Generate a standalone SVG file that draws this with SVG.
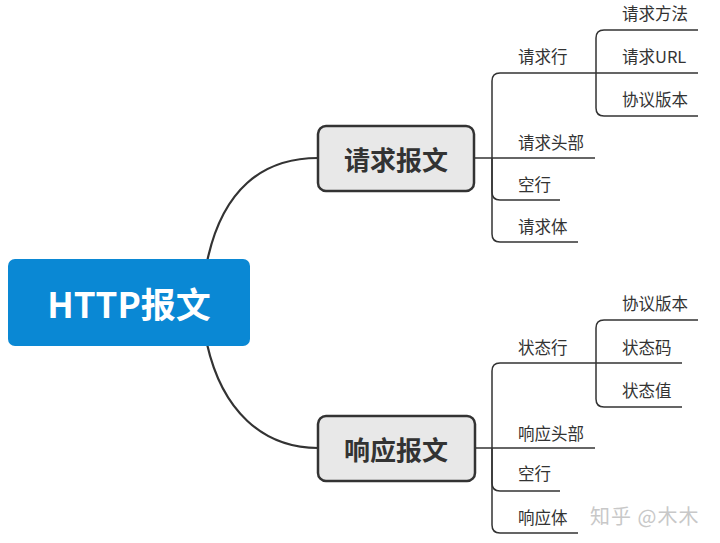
<svg xmlns="http://www.w3.org/2000/svg" width="720" height="543" viewBox="0 0 720 543">
<style>
.main{fill:none;stroke:#333;stroke-width:2.2}
.br{fill:none;stroke:#333;stroke-width:1.5}
.t{font-family:"Noto Sans CJK SC","Noto Sans",sans-serif;font-size:16.5px;fill:#333;dominant-baseline:central}
.topic{fill:#e8e8e8;stroke:#333;stroke-width:2.5}
.tt{font-family:"Noto Sans CJK SC","Noto Sans",sans-serif;font-size:26px;font-weight:bold;fill:#333;text-anchor:middle;dominant-baseline:central}
</style>
<rect width="720" height="543" fill="#fff"/>
<g id="connectors">
<path class="main" d="M207,262 C222,190 262,158 318,158"/>
<path class="main" d="M207,344 C222,410 262,448 318,448"/>
<path class="br" d="M474,158 H492"/>
<path class="br" d="M492,158 V81 Q492,73 500,73 H698"/>
<path class="br" d="M492,158 H595"/>
<path class="br" d="M492,158 V192 Q492,200 500,200 H560"/>
<path class="br" d="M492,158 V234 Q492,242 500,242 H578"/>
<path class="br" d="M596,73 V38 Q596,30 604,30 H698"/>
<path class="br" d="M596,73 V108 Q596,116 604,116 H698"/>
<path class="br" d="M475,448 H492"/>
<path class="br" d="M492,448 V371 Q492,363 500,363 H682"/>
<path class="br" d="M492,448 H595"/>
<path class="br" d="M492,448 V483 Q492,491 500,491 H560"/>
<path class="br" d="M492,448 V525 Q492,533 500,533 H578"/>
<path class="br" d="M596,363 V328 Q596,320 604,320 H698"/>
<path class="br" d="M596,363 V399 Q596,407 604,407 H682"/>
</g>
<g id="root">
<rect x="8" y="259" width="242" height="87" rx="7" fill="#0a88d4"/>
<text x="129" y="302" font-family="'Noto Sans CJK SC','Noto Sans',sans-serif" font-size="35" font-weight="bold" fill="#fff" text-anchor="middle" dominant-baseline="central">HTTP报文</text>
</g>
<g id="req">
<rect class="topic" x="318" y="126" width="156" height="65" rx="8"/>
<text class="tt" x="396" y="158">请求报文</text>
</g>
<g id="resp">
<rect class="topic" x="318" y="416" width="157" height="65" rx="8"/>
<text class="tt" x="396" y="448">响应报文</text>
</g>
<g id="req-line"><text class="t" x="518" y="56">请求行</text></g>
<g id="req-method"><text class="t" x="622" y="13">请求方法</text></g>
<g id="req-url"><text class="t" x="622" y="56">请求URL</text></g>
<g id="req-ver"><text class="t" x="622" y="99">协议版本</text></g>
<g id="req-head"><text class="t" x="518" y="142">请求头部</text></g>
<g id="req-blank"><text class="t" x="518" y="184">空行</text></g>
<g id="req-body"><text class="t" x="518" y="226">请求体</text></g>
<g id="resp-line"><text class="t" x="518" y="347">状态行</text></g>
<g id="resp-ver"><text class="t" x="622" y="303">协议版本</text></g>
<g id="resp-code"><text class="t" x="622" y="347">状态码</text></g>
<g id="resp-val"><text class="t" x="622" y="390">状态值</text></g>
<g id="resp-head"><text class="t" x="518" y="433">响应头部</text></g>
<g id="resp-blank"><text class="t" x="518" y="473">空行</text></g>
<g id="resp-body"><text class="t" x="518" y="517">响应体</text></g>
<text x="590" y="515" font-family="'Noto Sans CJK SC','Noto Sans',sans-serif" font-size="20" letter-spacing="1" fill="#c8c8c8" dominant-baseline="central">知乎 @木木</text>
</svg>
